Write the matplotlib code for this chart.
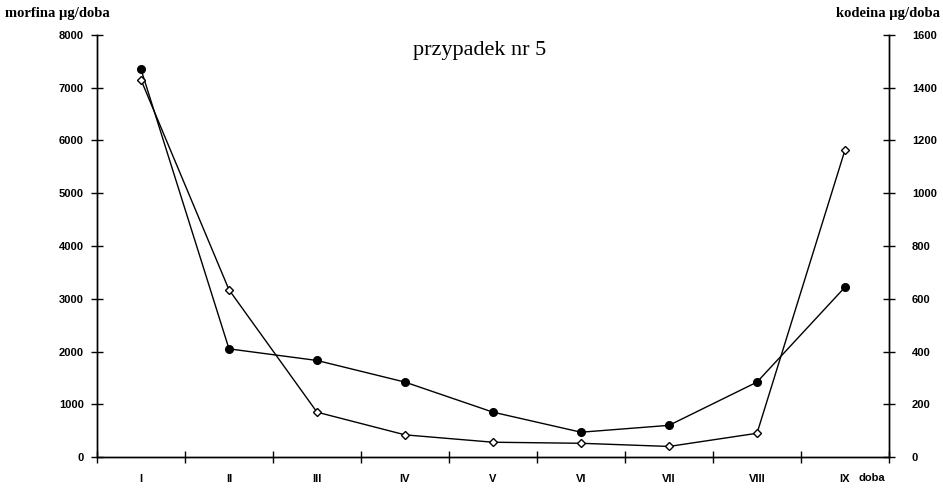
import matplotlib
matplotlib.use("Agg")
import matplotlib.pyplot as plt
from matplotlib.ticker import FixedLocator

categories = ["I", "II", "III", "IV", "V", "VI", "VII", "VIII", "IX"]
morfina = [7350, 2050, 1830, 1420, 850, 470, 600, 1420, 3220]
kodeina = [1430, 634, 170, 84, 56, 52, 40, 90, 1164]
left_ticks = [0, 1000, 2000, 3000, 4000, 5000, 6000, 7000, 8000]
right_ticks = [0, 200, 400, 600, 800, 1000, 1200, 1400, 1600]

fig = plt.figure(figsize=(9.43, 4.9), dpi=100)
ax = fig.add_axes([97/943, 1-457/490, (889-97)/943, (457-35)/490])
ax2 = ax.twinx()

x = [i + 0.5 for i in range(len(categories))]
ax.plot(x, morfina, color="black", lw=1.0, marker="o", ms=5.5,
        mfc="black", mec="black", zorder=3)
ax2.plot(x, kodeina, color="black", lw=1.0, marker="D", ms=4.5,
         mfc="white", mec="black", mew=1.0, zorder=3)

ax.set_xlim(0, 9)
ax.set_ylim(0, 8000)
ax2.set_ylim(0, 1600)

ax.set_xticks(x)
ax.set_xticklabels(categories)
ax.xaxis.set_minor_locator(FixedLocator(list(range(0, 10))))
ax.tick_params(axis="x", which="major", length=0, pad=12)
ax.tick_params(axis="x", which="minor", direction="inout", length=9, width=1)

ax.set_yticks(left_ticks)
ax.set_yticklabels([str(v) for v in left_ticks])
ax.tick_params(axis="y", direction="inout", length=9, width=1, pad=5)
ax2.set_yticks(right_ticks)
ax2.set_yticklabels([str(v) for v in right_ticks])
ax2.tick_params(axis="y", direction="inout", length=9, width=1, pad=12)

for a in (ax, ax2):
    a.spines["top"].set_visible(False)
    for s in ("left", "right", "bottom"):
        a.spines[s].set_linewidth(1.0)
    for lbl in a.get_xticklabels() + a.get_yticklabels():
        lbl.set_fontfamily("Liberation Sans")
        lbl.set_fontsize(8)
        lbl.set_fontweight("bold")

fig.text(480/943, 1-50/490, "przypadek nr 5", ha="center",
         va="center", fontsize=16, fontfamily="Liberation Serif")
fig.text(5/943, 1-14/490, "morfina µg/doba", ha="left", va="center",
         fontsize=10.5, fontweight="bold", fontfamily="Liberation Serif")
fig.text(940/943, 1-14/490, "kodeina µg/doba", ha="right", va="center",
         fontsize=10.5, fontweight="bold", fontfamily="Liberation Serif")
fig.text(872/943, 1-478/490, "doba", ha="center", va="center",
         fontsize=8, fontweight="bold", fontfamily="Liberation Sans")

fig.savefig("out.png", dpi=100)
